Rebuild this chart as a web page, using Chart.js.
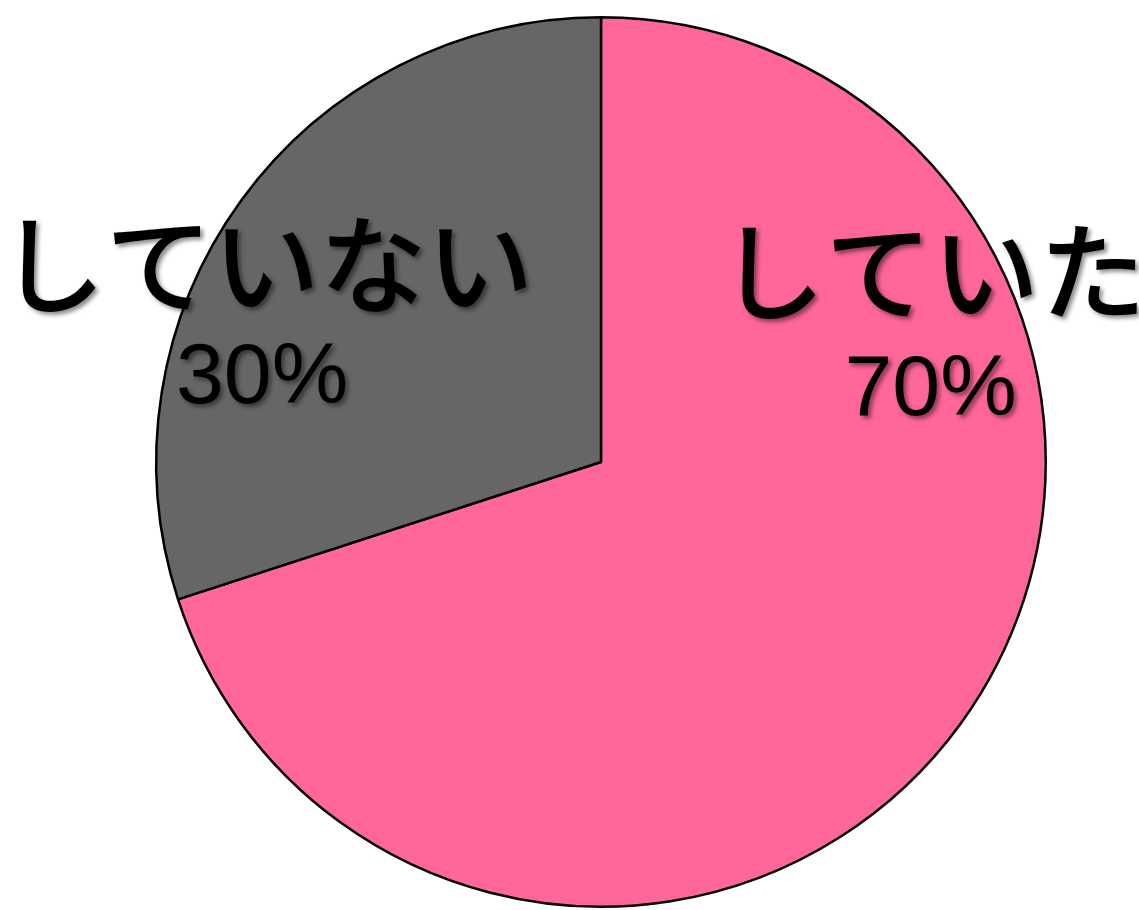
<!DOCTYPE html>
<html lang="ja">
<head>
    <meta charset="UTF-8">
    <title>していた / していない</title>
    <script src="https://cdn.jsdelivr.net/npm/chart.js"></script>
    <style>
        html, body { margin: 0; padding: 0; background: #fff; }
        #wrap { width: 1139px; height: 910px; }
    </style>
</head>
<body>
    <div id="wrap"><canvas id="pie"></canvas></div>

    <script>
        // data
        const categories = ['していた', 'していない'];
        const percents = [70, 30];
        const sliceColors = ['#FF6699', '#666666'];

        // label placement, as fraction of the radius from the pie centre
        const labelSpots = [
            { name: [0.745, -0.428], pct: [0.741, -0.160] },
            { name: [-0.753, -0.444], pct: [-0.762, -0.186] }
        ];

        const labelPlugin = {
            id: 'sliceLabels',
            afterDatasetsDraw(chart) {
                const ctx = chart.ctx;
                const meta = chart.getDatasetMeta(0);
                const arc = meta.data[0];
                const cx = arc.x, cy = arc.y, r = arc.outerRadius;
                ctx.save();
                ctx.textAlign = 'center';
                ctx.textBaseline = 'middle';
                ctx.fillStyle = '#000';
                ctx.shadowColor = 'rgba(0,0,0,0.45)';
                ctx.shadowBlur = 4;
                ctx.shadowOffsetX = 3;
                ctx.shadowOffsetY = 3;
                categories.forEach((name, i) => {
                    const s = labelSpots[i];
                    ctx.font = '500 107px "Noto Sans CJK JP"';
                    ctx.fillText(name, cx + s.name[0] * r, cy + s.name[1] * r);
                    ctx.font = '86px "Liberation Sans", Arial, sans-serif';
                    ctx.fillText(percents[i] + '%', cx + s.pct[0] * r, cy + s.pct[1] * r);
                });
                ctx.restore();
            }
        };

        new Chart(document.getElementById('pie'), {
            type: 'pie',
            data: {
                labels: categories,
                datasets: [{
                    data: percents,
                    backgroundColor: sliceColors,
                    borderColor: '#000',
                    borderWidth: 2.5
                }]
            },
            options: {
                responsive: true,
                maintainAspectRatio: false,
                animation: false,
                layout: { padding: { left: 155, right: 92, top: 15, bottom: 1 } },
                plugins: {
                    legend: { display: false },
                    tooltip: { enabled: false }
                }
            },
            plugins: [labelPlugin]
        });
    </script>
</body>
</html>
